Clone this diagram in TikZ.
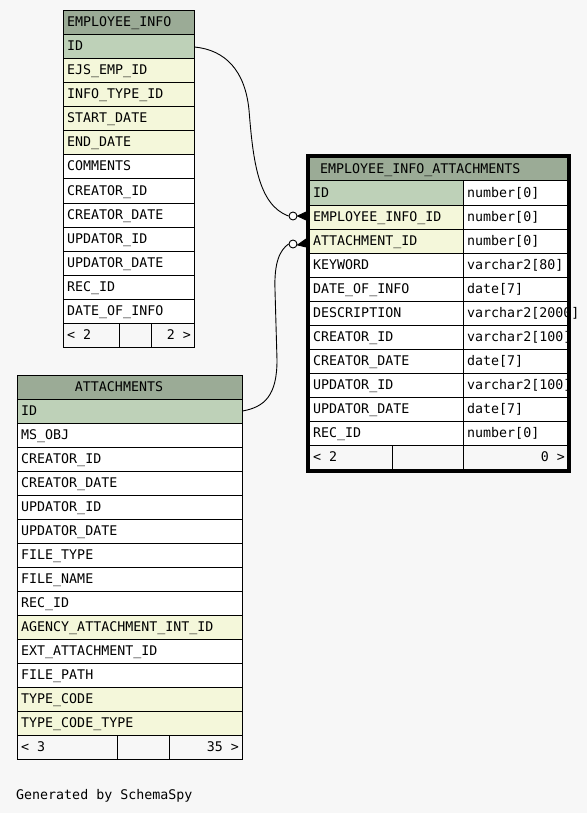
\documentclass[tikz,border=0pt]{standalone}
\usepackage{fontspec}
\setmonofont{DejaVu Sans Mono}
\definecolor{bg}{HTML}{F7F7F7}
\definecolor{hdr}{HTML}{9BAB96}
\definecolor{pk}{HTML}{BED1B8}
\definecolor{idx}{HTML}{F4F7DA}
\begin{document}
\begin{tikzpicture}[x=1pt,y=-1pt,
  txt/.style={anchor=base west,inner sep=0pt,font=\ttfamily\fontsize{13.3}{16}\selectfont},
  rtxt/.style={txt,anchor=base east},
  ctxt/.style={txt,anchor=base},
  grid/.style={draw=black,line width=1pt},
  conn/.style={draw=black,line width=0.9pt},
  ring/.style={circle,draw=black,fill=white,line width=0.9pt,minimum size=8pt,inner sep=0pt},
  crow/.style={fill=black,draw=black,line width=0.8pt}]
\fill[bg] (0,0) rectangle (587,813);
\useasboundingbox (0,0) rectangle (587,813);

% ---------------- EMPLOYEE_INFO ----------------
\fill[hdr] (63,11) rectangle (194,35);
\node[txt] (eih) at (67,27) {EMPLOYEE\_INFO};
\foreach \t/\c [count=\i from 0] in {ID/pk,EJS\_EMP\_ID/idx,INFO\_TYPE\_ID/idx,START\_DATE/idx,END\_DATE/idx,COMMENTS/white,CREATOR\_ID/white,CREATOR\_DATE/white,UPDATOR\_ID/white,UPDATOR\_DATE/white,REC\_ID/white,DATE\_OF\_INFO/white}{
  \fill[\c] (63,35+24*\i) rectangle (194,59+24*\i);
  \node[txt] (ei-\i) at (67,51+24*\i) {\t};
}
\fill[bg] (63,323) rectangle (194,347);
\foreach \i in {0,...,12}{\draw[grid] (63,35+24*\i) -- (194,35+24*\i);}
\draw[grid] (63,11) rectangle (194,347);
\draw[grid] (119,323) -- (119,347) (151,323) -- (151,347);
\node[txt] (eif1) at (67,339) {< 2};
\node[rtxt] (eif2) at (191,339) {2 >};
\coordinate (eiid) at (194.5,47);

% ---------------- EMPLOYEE_INFO_ATTACHMENTS ----------------
\fill[hdr] (310,158) rectangle (567,181);
\node[txt] (eah) at (320,174) {EMPLOYEE\_INFO\_ATTACHMENTS};
\foreach \t/\c/\ty [count=\i from 0] in {ID/pk/number[0],EMPLOYEE\_INFO\_ID/idx/number[0],ATTACHMENT\_ID/idx/number[0],KEYWORD/white/varchar2[80],DATE\_OF\_INFO/white/date[7],DESCRIPTION/white/varchar2[2000],CREATOR\_ID/white/varchar2[100],CREATOR\_DATE/white/date[7],UPDATOR\_ID/white/varchar2[100],UPDATOR\_DATE/white/date[7],REC\_ID/white/number[0]}{
  \fill[\c] (310,181+24*\i) rectangle (463,205+24*\i);
  \fill[white] (463,181+24*\i) rectangle (567,205+24*\i);
  \node[txt] (ea-\i) at (313,197+24*\i) {\t};
  \begin{scope}
    \clip (463,181+24*\i) rectangle (576,205+24*\i);
    \node[txt] (eat-\i) at (467,197+24*\i) {\ty};
  \end{scope}
}
\fill[bg] (310,445) rectangle (567,469);
\foreach \i in {0,...,11}{\draw[grid] (310,181+24*\i) -- (567,181+24*\i);}
\draw[grid] (463,181) -- (463,469);
\draw[grid] (392,445) -- (392,469);
\node[txt] (eaf1) at (313,461) {< 2};
\node[rtxt] (eaf2) at (565,461) {0 >};
\draw[black,line width=4pt] (308,156) rectangle (569,471);
\coordinate (eaemp) at (306,216);
\coordinate (eaatt) at (306,243);

% ---------------- ATTACHMENTS ----------------
\fill[hdr] (17,375) rectangle (242,399);
\node[ctxt] (ath) at (119,391) {ATTACHMENTS};
\foreach \t/\c [count=\i from 0] in {ID/pk,MS\_OBJ/white,CREATOR\_ID/white,CREATOR\_DATE/white,UPDATOR\_ID/white,UPDATOR\_DATE/white,FILE\_TYPE/white,FILE\_NAME/white,REC\_ID/white,AGENCY\_ATTACHMENT\_INT\_ID/idx,EXT\_ATTACHMENT\_ID/white,FILE\_PATH/white,TYPE\_CODE/idx,TYPE\_CODE\_TYPE/idx}{
  \fill[\c] (17,399+24*\i) rectangle (242,423+24*\i);
  \node[txt] (at-\i) at (21,415+24*\i) {\t};
}
\fill[bg] (17,735) rectangle (242,759);
\foreach \i in {0,...,14}{\draw[grid] (17,399+24*\i) -- (242,399+24*\i);}
\draw[grid] (17,375) rectangle (242,759);
\draw[grid] (117,735) -- (117,759) (169,735) -- (169,759);
\node[txt] (atf1) at (21,751) {< 3};
\node[rtxt] (atf2) at (239,751) {35 >};
\coordinate (atid) at (242.5,411);

% ---------------- connectors ----------------
\node[ring] (r1) at (293,216) {};
\node[ring] (r2) at (293,244) {};
\draw[conn] (eiid) .. controls (225,50) and (245,70) .. (249,110)
  .. controls (253,160) and (258,205) .. (r1.west);
\draw[conn] (atid) .. controls (265,407) and (277,395) .. (277,360)
  -- (275,290) .. controls (274,262) and (280,250) .. (r2.west);
\draw[crow] (r1.east) -- ([yshift=-4]eaemp) -- ([yshift=4]eaemp) -- cycle;
\draw[crow] ([yshift=-1]r2.east) -- ([yshift=-4]eaatt) -- ([yshift=4]eaatt) -- cycle;

\node[txt] (gen) at (16,799) {Generated by SchemaSpy};
\end{tikzpicture}
\end{document}
